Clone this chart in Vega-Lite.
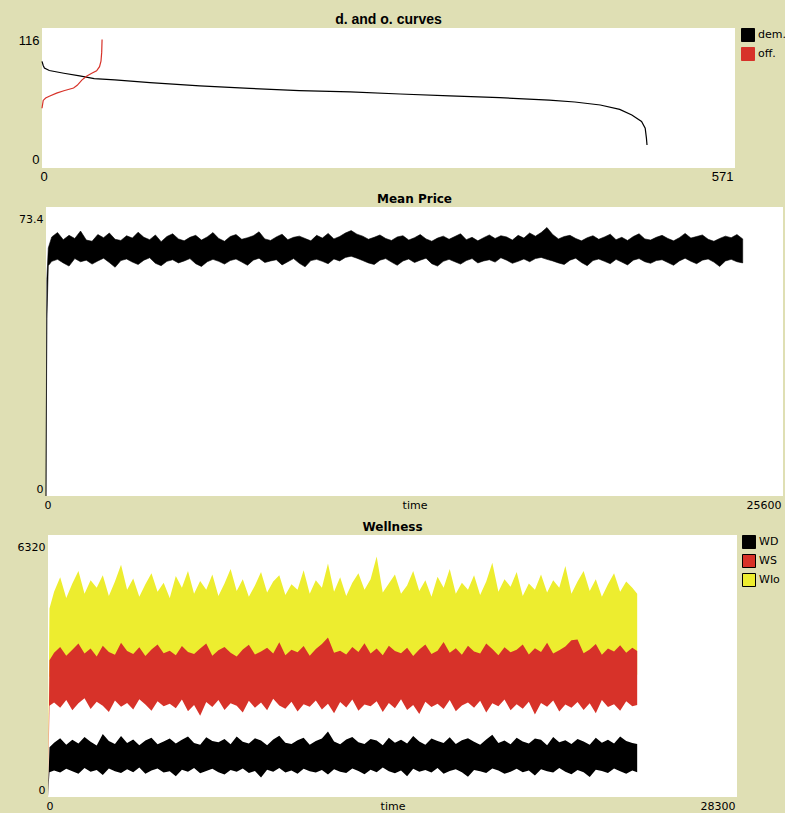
{
  "$schema": "https://vega.github.io/schema/vega-lite/v6.json",
  "background": "#dfdfb4",
  "padding": {"left": 0, "top": 13, "right": 0, "bottom": 0},
  "spacing": 9,
  "bounds": "full",
  "config": {
    "view": {"fill": null, "stroke": null},
    "axis": {"grid": false, "domain": false, "ticks": false, "labelColor": "black", "titleColor": "black"},
    "title": {"color": "black", "anchor": "middle"}
  },
  "resolve": {"scale": {"color": "independent"}, "legend": {"color": "independent"}},
  "datasets": {
    "panes": [{"pane": "plot area"}],
    "curves": [
      {"s": "dem.", "x": 0, "y": 88.3}, {"s": "dem.", "x": 1, "y": 85}, {"s": "dem.", "x": 2, "y": 82.8}, {"s": "dem.", "x": 6, "y": 80.8},
      {"s": "dem.", "x": 18, "y": 78.5}, {"s": "dem.", "x": 31, "y": 76.3}, {"s": "dem.", "x": 43, "y": 74.1}, {"s": "dem.", "x": 60, "y": 73},
      {"s": "dem.", "x": 89, "y": 70.8}, {"s": "dem.", "x": 130, "y": 68}, {"s": "dem.", "x": 171, "y": 66}, {"s": "dem.", "x": 212, "y": 64.1},
      {"s": "dem.", "x": 254, "y": 63}, {"s": "dem.", "x": 295, "y": 61.3}, {"s": "dem.", "x": 336, "y": 59.7}, {"s": "dem.", "x": 377, "y": 58.3},
      {"s": "dem.", "x": 418, "y": 56.3}, {"s": "dem.", "x": 439, "y": 54.7}, {"s": "dem.", "x": 460, "y": 52.2}, {"s": "dem.", "x": 476, "y": 48.6},
      {"s": "dem.", "x": 486, "y": 43.9}, {"s": "dem.", "x": 494, "y": 38.5}, {"s": "dem.", "x": 497, "y": 33}, {"s": "dem.", "x": 498, "y": 25},
      {"s": "dem.", "x": 498.5, "y": 19},
      {"s": "off.", "x": 0, "y": 49.5}, {"s": "off.", "x": 1, "y": 56}, {"s": "off.", "x": 3, "y": 58}, {"s": "off.", "x": 6, "y": 59.5},
      {"s": "off.", "x": 12, "y": 62}, {"s": "off.", "x": 18, "y": 64}, {"s": "off.", "x": 26, "y": 66.3}, {"s": "off.", "x": 29, "y": 68.5},
      {"s": "off.", "x": 33, "y": 73}, {"s": "off.", "x": 37, "y": 76.3}, {"s": "off.", "x": 41, "y": 78.5}, {"s": "off.", "x": 45, "y": 80.5},
      {"s": "off.", "x": 47.4, "y": 84}, {"s": "off.", "x": 48.6, "y": 88.5}, {"s": "off.", "x": 49.2, "y": 96}, {"s": "off.", "x": 49.5, "y": 106.5}
    ],
    "price": [
      {"t": 0, "lo": 0, "hi": 1}, {"t": 30, "lo": 45, "hi": 55}, {"t": 80, "lo": 58.5, "hi": 63},
      {"t": 200, "lo": 59.6, "hi": 65.8}, {"t": 400, "lo": 60.1, "hi": 66.9}, {"t": 600, "lo": 59.2, "hi": 65.1}, {"t": 800, "lo": 58.4, "hi": 66.2},
      {"t": 1000, "lo": 60.3, "hi": 65.4}, {"t": 1200, "lo": 59.5, "hi": 67.3}, {"t": 1400, "lo": 59.9, "hi": 65.0}, {"t": 1600, "lo": 58.9, "hi": 64.7},
      {"t": 1800, "lo": 59.7, "hi": 66.4}, {"t": 2000, "lo": 60.4, "hi": 65.6}, {"t": 2200, "lo": 59.3, "hi": 66.8}, {"t": 2400, "lo": 58.1, "hi": 65.2},
      {"t": 2600, "lo": 59.8, "hi": 64.9}, {"t": 2800, "lo": 60.2, "hi": 66.1}, {"t": 3000, "lo": 59.4, "hi": 65.5}, {"t": 3200, "lo": 58.8, "hi": 67.0},
      {"t": 3400, "lo": 59.9, "hi": 65.7}, {"t": 3600, "lo": 60.5, "hi": 65.1}, {"t": 3800, "lo": 59.1, "hi": 66.3}, {"t": 4000, "lo": 58.5, "hi": 64.6},
      {"t": 4200, "lo": 59.6, "hi": 65.9}, {"t": 4400, "lo": 60.0, "hi": 66.6}, {"t": 4600, "lo": 59.2, "hi": 65.3}, {"t": 4800, "lo": 59.7, "hi": 64.8},
      {"t": 5000, "lo": 60.3, "hi": 65.7}, {"t": 5200, "lo": 59.0, "hi": 66.2}, {"t": 5400, "lo": 58.3, "hi": 65.0}, {"t": 5600, "lo": 59.5, "hi": 65.8},
      {"t": 5800, "lo": 60.1, "hi": 66.9}, {"t": 6000, "lo": 59.6, "hi": 65.4}, {"t": 6200, "lo": 58.9, "hi": 64.7}, {"t": 6400, "lo": 59.8, "hi": 65.9},
      {"t": 6600, "lo": 60.2, "hi": 66.4}, {"t": 6800, "lo": 59.4, "hi": 65.2}, {"t": 7000, "lo": 58.6, "hi": 65.6}, {"t": 7200, "lo": 59.9, "hi": 66.1},
      {"t": 7400, "lo": 60.4, "hi": 67.1}, {"t": 7600, "lo": 59.3, "hi": 65.3}, {"t": 7800, "lo": 59.7, "hi": 64.9}, {"t": 8000, "lo": 60.0, "hi": 65.8},
      {"t": 8200, "lo": 58.7, "hi": 66.5}, {"t": 8400, "lo": 59.5, "hi": 65.1}, {"t": 8600, "lo": 60.3, "hi": 65.7}, {"t": 8800, "lo": 59.1, "hi": 66.0},
      {"t": 9000, "lo": 58.2, "hi": 65.4}, {"t": 9200, "lo": 59.8, "hi": 64.8}, {"t": 9400, "lo": 60.1, "hi": 66.2}, {"t": 9600, "lo": 59.6, "hi": 65.5},
      {"t": 9800, "lo": 59.0, "hi": 66.7}, {"t": 10000, "lo": 60.2, "hi": 65.3}, {"t": 10200, "lo": 59.7, "hi": 65.9}, {"t": 10400, "lo": 60.6, "hi": 66.8},
      {"t": 10600, "lo": 60.9, "hi": 67.4}, {"t": 10800, "lo": 60.4, "hi": 66.5}, {"t": 11000, "lo": 59.8, "hi": 66.0}, {"t": 11200, "lo": 59.2, "hi": 65.2},
      {"t": 11400, "lo": 58.8, "hi": 65.7}, {"t": 11600, "lo": 59.9, "hi": 66.3}, {"t": 11800, "lo": 60.3, "hi": 65.4}, {"t": 12000, "lo": 59.4, "hi": 64.9},
      {"t": 12200, "lo": 58.6, "hi": 65.8}, {"t": 12400, "lo": 59.7, "hi": 66.1}, {"t": 12600, "lo": 60.2, "hi": 65.0}, {"t": 12800, "lo": 59.3, "hi": 65.6},
      {"t": 13000, "lo": 59.9, "hi": 66.4}, {"t": 13200, "lo": 60.4, "hi": 65.3}, {"t": 13400, "lo": 59.0, "hi": 64.7}, {"t": 13600, "lo": 58.4, "hi": 65.5},
      {"t": 13800, "lo": 59.6, "hi": 66.0}, {"t": 14000, "lo": 60.1, "hi": 65.2}, {"t": 14200, "lo": 59.5, "hi": 65.9}, {"t": 14400, "lo": 58.9, "hi": 66.6},
      {"t": 14600, "lo": 59.8, "hi": 65.1}, {"t": 14800, "lo": 60.3, "hi": 65.7}, {"t": 15000, "lo": 59.2, "hi": 64.8}, {"t": 15200, "lo": 59.7, "hi": 65.6},
      {"t": 15400, "lo": 60.0, "hi": 66.3}, {"t": 15600, "lo": 59.4, "hi": 65.4}, {"t": 15800, "lo": 60.5, "hi": 66.1}, {"t": 16000, "lo": 59.9, "hi": 65.8},
      {"t": 16200, "lo": 59.1, "hi": 65.0}, {"t": 16400, "lo": 59.6, "hi": 66.2}, {"t": 16600, "lo": 60.2, "hi": 65.5}, {"t": 16800, "lo": 59.5, "hi": 66.8},
      {"t": 17000, "lo": 60.3, "hi": 66.0}, {"t": 17200, "lo": 60.6, "hi": 66.9}, {"t": 17400, "lo": 60.1, "hi": 68.2}, {"t": 17600, "lo": 59.7, "hi": 66.4},
      {"t": 17800, "lo": 59.2, "hi": 65.3}, {"t": 18000, "lo": 58.8, "hi": 65.9}, {"t": 18200, "lo": 59.9, "hi": 66.2}, {"t": 18400, "lo": 60.4, "hi": 65.4},
      {"t": 18600, "lo": 59.3, "hi": 64.8}, {"t": 18800, "lo": 58.5, "hi": 65.6}, {"t": 19000, "lo": 59.8, "hi": 66.1}, {"t": 19200, "lo": 60.2, "hi": 65.2},
      {"t": 19400, "lo": 59.6, "hi": 65.8}, {"t": 19600, "lo": 59.0, "hi": 66.5}, {"t": 19800, "lo": 60.1, "hi": 65.1}, {"t": 20000, "lo": 59.4, "hi": 65.7},
      {"t": 20200, "lo": 58.7, "hi": 64.9}, {"t": 20400, "lo": 59.9, "hi": 65.9}, {"t": 20600, "lo": 60.3, "hi": 66.6}, {"t": 20800, "lo": 59.5, "hi": 65.3},
      {"t": 21000, "lo": 59.1, "hi": 65.0}, {"t": 21200, "lo": 59.8, "hi": 65.7}, {"t": 21400, "lo": 60.0, "hi": 66.2}, {"t": 21600, "lo": 59.3, "hi": 65.4},
      {"t": 21800, "lo": 58.6, "hi": 64.8}, {"t": 22000, "lo": 59.7, "hi": 65.6}, {"t": 22200, "lo": 60.4, "hi": 66.7}, {"t": 22400, "lo": 59.6, "hi": 65.5},
      {"t": 22600, "lo": 59.0, "hi": 65.9}, {"t": 22800, "lo": 59.9, "hi": 66.3}, {"t": 23000, "lo": 60.2, "hi": 65.2}, {"t": 23200, "lo": 59.4, "hi": 64.7},
      {"t": 23400, "lo": 58.3, "hi": 65.4}, {"t": 23600, "lo": 59.7, "hi": 66.0}, {"t": 23800, "lo": 60.1, "hi": 65.6}, {"t": 24000, "lo": 59.5, "hi": 66.4},
      {"t": 24200, "lo": 59.2, "hi": 65.3}
    ],
    "wellness": [
      {"s": "WD", "t": 0, "lo": 0, "hi": 30}, {"s": "WD", "t": 60, "lo": 600, "hi": 1200}, {"s": "WD", "t": 250, "lo": 640, "hi": 1310}, {"s": "WD", "t": 500, "lo": 590, "hi": 1420},
      {"s": "WD", "t": 750, "lo": 680, "hi": 1260}, {"s": "WD", "t": 1000, "lo": 620, "hi": 1380}, {"s": "WD", "t": 1250, "lo": 560, "hi": 1290}, {"s": "WD", "t": 1500, "lo": 700, "hi": 1450},
      {"s": "WD", "t": 1750, "lo": 610, "hi": 1330}, {"s": "WD", "t": 2000, "lo": 650, "hi": 1240}, {"s": "WD", "t": 2250, "lo": 530, "hi": 1520}, {"s": "WD", "t": 2500, "lo": 690, "hi": 1350},
      {"s": "WD", "t": 2750, "lo": 620, "hi": 1280}, {"s": "WD", "t": 3000, "lo": 580, "hi": 1470}, {"s": "WD", "t": 3250, "lo": 670, "hi": 1300}, {"s": "WD", "t": 3500, "lo": 600, "hi": 1390},
      {"s": "WD", "t": 3750, "lo": 710, "hi": 1250}, {"s": "WD", "t": 4000, "lo": 560, "hi": 1360}, {"s": "WD", "t": 4250, "lo": 640, "hi": 1430}, {"s": "WD", "t": 4500, "lo": 690, "hi": 1270},
      {"s": "WD", "t": 4750, "lo": 590, "hi": 1340}, {"s": "WD", "t": 5000, "lo": 620, "hi": 1410}, {"s": "WD", "t": 5250, "lo": 500, "hi": 1290}, {"s": "WD", "t": 5500, "lo": 660, "hi": 1380},
      {"s": "WD", "t": 5750, "lo": 610, "hi": 1460}, {"s": "WD", "t": 6000, "lo": 700, "hi": 1300}, {"s": "WD", "t": 6250, "lo": 570, "hi": 1260}, {"s": "WD", "t": 6500, "lo": 630, "hi": 1440},
      {"s": "WD", "t": 6750, "lo": 680, "hi": 1350}, {"s": "WD", "t": 7000, "lo": 600, "hi": 1320}, {"s": "WD", "t": 7250, "lo": 540, "hi": 1400}, {"s": "WD", "t": 7500, "lo": 650, "hi": 1270},
      {"s": "WD", "t": 7750, "lo": 610, "hi": 1460}, {"s": "WD", "t": 8000, "lo": 690, "hi": 1330}, {"s": "WD", "t": 8250, "lo": 580, "hi": 1290}, {"s": "WD", "t": 8500, "lo": 630, "hi": 1420},
      {"s": "WD", "t": 8750, "lo": 470, "hi": 1360}, {"s": "WD", "t": 9000, "lo": 660, "hi": 1250}, {"s": "WD", "t": 9250, "lo": 610, "hi": 1390}, {"s": "WD", "t": 9500, "lo": 700, "hi": 1480},
      {"s": "WD", "t": 9750, "lo": 590, "hi": 1310}, {"s": "WD", "t": 10000, "lo": 640, "hi": 1280}, {"s": "WD", "t": 10250, "lo": 560, "hi": 1370}, {"s": "WD", "t": 10500, "lo": 680, "hi": 1430},
      {"s": "WD", "t": 10750, "lo": 620, "hi": 1260}, {"s": "WD", "t": 11000, "lo": 590, "hi": 1350}, {"s": "WD", "t": 11250, "lo": 650, "hi": 1410}, {"s": "WD", "t": 11500, "lo": 540, "hi": 1580},
      {"s": "WD", "t": 11750, "lo": 670, "hi": 1340}, {"s": "WD", "t": 12000, "lo": 610, "hi": 1270}, {"s": "WD", "t": 12250, "lo": 580, "hi": 1390}, {"s": "WD", "t": 12500, "lo": 690, "hi": 1450},
      {"s": "WD", "t": 12750, "lo": 630, "hi": 1320}, {"s": "WD", "t": 13000, "lo": 550, "hi": 1280}, {"s": "WD", "t": 13250, "lo": 660, "hi": 1400}, {"s": "WD", "t": 13500, "lo": 600, "hi": 1360},
      {"s": "WD", "t": 13750, "lo": 710, "hi": 1250}, {"s": "WD", "t": 14000, "lo": 620, "hi": 1430}, {"s": "WD", "t": 14250, "lo": 570, "hi": 1310}, {"s": "WD", "t": 14500, "lo": 640, "hi": 1380},
      {"s": "WD", "t": 14750, "lo": 500, "hi": 1290}, {"s": "WD", "t": 15000, "lo": 680, "hi": 1470}, {"s": "WD", "t": 15250, "lo": 610, "hi": 1340}, {"s": "WD", "t": 15500, "lo": 650, "hi": 1260},
      {"s": "WD", "t": 15750, "lo": 590, "hi": 1410}, {"s": "WD", "t": 16000, "lo": 700, "hi": 1350}, {"s": "WD", "t": 16250, "lo": 560, "hi": 1300}, {"s": "WD", "t": 16500, "lo": 630, "hi": 1440},
      {"s": "WD", "t": 16750, "lo": 670, "hi": 1280}, {"s": "WD", "t": 17000, "lo": 600, "hi": 1370}, {"s": "WD", "t": 17250, "lo": 490, "hi": 1420}, {"s": "WD", "t": 17500, "lo": 650, "hi": 1330},
      {"s": "WD", "t": 17750, "lo": 620, "hi": 1260}, {"s": "WD", "t": 18000, "lo": 580, "hi": 1390}, {"s": "WD", "t": 18250, "lo": 690, "hi": 1500}, {"s": "WD", "t": 18500, "lo": 640, "hi": 1300},
      {"s": "WD", "t": 18750, "lo": 560, "hi": 1360}, {"s": "WD", "t": 19000, "lo": 610, "hi": 1270}, {"s": "WD", "t": 19250, "lo": 680, "hi": 1430}, {"s": "WD", "t": 19500, "lo": 600, "hi": 1340},
      {"s": "WD", "t": 19750, "lo": 640, "hi": 1290}, {"s": "WD", "t": 20000, "lo": 520, "hi": 1410}, {"s": "WD", "t": 20250, "lo": 670, "hi": 1380}, {"s": "WD", "t": 20500, "lo": 620, "hi": 1250},
      {"s": "WD", "t": 20750, "lo": 590, "hi": 1450}, {"s": "WD", "t": 21000, "lo": 700, "hi": 1320}, {"s": "WD", "t": 21250, "lo": 610, "hi": 1370}, {"s": "WD", "t": 21500, "lo": 550, "hi": 1280},
      {"s": "WD", "t": 21750, "lo": 650, "hi": 1400}, {"s": "WD", "t": 22000, "lo": 600, "hi": 1340}, {"s": "WD", "t": 22250, "lo": 480, "hi": 1260}, {"s": "WD", "t": 22500, "lo": 660, "hi": 1430},
      {"s": "WD", "t": 22750, "lo": 630, "hi": 1310}, {"s": "WD", "t": 23000, "lo": 580, "hi": 1380}, {"s": "WD", "t": 23250, "lo": 690, "hi": 1290}, {"s": "WD", "t": 23500, "lo": 620, "hi": 1460},
      {"s": "WD", "t": 23750, "lo": 560, "hi": 1350}, {"s": "WD", "t": 24000, "lo": 640, "hi": 1300}, {"s": "WD", "t": 24200, "lo": 600, "hi": 1280},

      {"s": "WS", "t": 0, "lo": 0, "hi": 40}, {"s": "WS", "t": 60, "lo": 2200, "hi": 3300}, {"s": "WS", "t": 250, "lo": 2280, "hi": 3480}, {"s": "WS", "t": 500, "lo": 2150, "hi": 3620},
      {"s": "WS", "t": 750, "lo": 2340, "hi": 3410}, {"s": "WS", "t": 1000, "lo": 2090, "hi": 3550}, {"s": "WS", "t": 1250, "lo": 2260, "hi": 3700}, {"s": "WS", "t": 1500, "lo": 2380, "hi": 3460},
      {"s": "WS", "t": 1750, "lo": 2120, "hi": 3580}, {"s": "WS", "t": 2000, "lo": 2300, "hi": 3390}, {"s": "WS", "t": 2250, "lo": 2200, "hi": 3650}, {"s": "WS", "t": 2500, "lo": 2050, "hi": 3500},
      {"s": "WS", "t": 2750, "lo": 2330, "hi": 3430}, {"s": "WS", "t": 3000, "lo": 2180, "hi": 3720}, {"s": "WS", "t": 3250, "lo": 2270, "hi": 3520}, {"s": "WS", "t": 3500, "lo": 2110, "hi": 3450},
      {"s": "WS", "t": 3750, "lo": 2360, "hi": 3610}, {"s": "WS", "t": 4000, "lo": 2230, "hi": 3400}, {"s": "WS", "t": 4250, "lo": 2080, "hi": 3560}, {"s": "WS", "t": 4500, "lo": 2310, "hi": 3680},
      {"s": "WS", "t": 4750, "lo": 2190, "hi": 3470}, {"s": "WS", "t": 5000, "lo": 2250, "hi": 3530}, {"s": "WS", "t": 5250, "lo": 2140, "hi": 3420}, {"s": "WS", "t": 5500, "lo": 2350, "hi": 3640},
      {"s": "WS", "t": 5750, "lo": 2070, "hi": 3500}, {"s": "WS", "t": 6000, "lo": 2220, "hi": 3450}, {"s": "WS", "t": 6250, "lo": 1960, "hi": 3580}, {"s": "WS", "t": 6500, "lo": 2290, "hi": 3700},
      {"s": "WS", "t": 6750, "lo": 2170, "hi": 3410}, {"s": "WS", "t": 7000, "lo": 2340, "hi": 3540}, {"s": "WS", "t": 7250, "lo": 2100, "hi": 3620}, {"s": "WS", "t": 7500, "lo": 2260, "hi": 3480},
      {"s": "WS", "t": 7750, "lo": 2200, "hi": 3390}, {"s": "WS", "t": 8000, "lo": 2040, "hi": 3560}, {"s": "WS", "t": 8250, "lo": 2320, "hi": 3670}, {"s": "WS", "t": 8500, "lo": 2150, "hi": 3440},
      {"s": "WS", "t": 8750, "lo": 2280, "hi": 3510}, {"s": "WS", "t": 9000, "lo": 2090, "hi": 3600}, {"s": "WS", "t": 9250, "lo": 2370, "hi": 3460}, {"s": "WS", "t": 9500, "lo": 2210, "hi": 3730},
      {"s": "WS", "t": 9750, "lo": 2130, "hi": 3420}, {"s": "WS", "t": 10000, "lo": 2300, "hi": 3550}, {"s": "WS", "t": 10250, "lo": 2060, "hi": 3490}, {"s": "WS", "t": 10500, "lo": 2240, "hi": 3640},
      {"s": "WS", "t": 10750, "lo": 2180, "hi": 3410}, {"s": "WS", "t": 11000, "lo": 2330, "hi": 3570}, {"s": "WS", "t": 11250, "lo": 2110, "hi": 3690}, {"s": "WS", "t": 11500, "lo": 2250, "hi": 3850},
      {"s": "WS", "t": 11750, "lo": 2020, "hi": 3480}, {"s": "WS", "t": 12000, "lo": 2290, "hi": 3530}, {"s": "WS", "t": 12250, "lo": 2160, "hi": 3440}, {"s": "WS", "t": 12500, "lo": 2350, "hi": 3620},
      {"s": "WS", "t": 12750, "lo": 2080, "hi": 3500}, {"s": "WS", "t": 13000, "lo": 2230, "hi": 3710}, {"s": "WS", "t": 13250, "lo": 2190, "hi": 3460}, {"s": "WS", "t": 13500, "lo": 2310, "hi": 3580},
      {"s": "WS", "t": 13750, "lo": 2050, "hi": 3420}, {"s": "WS", "t": 14000, "lo": 2270, "hi": 3650}, {"s": "WS", "t": 14250, "lo": 2140, "hi": 3520}, {"s": "WS", "t": 14500, "lo": 2360, "hi": 3470},
      {"s": "WS", "t": 14750, "lo": 2100, "hi": 3600}, {"s": "WS", "t": 15000, "lo": 2220, "hi": 3400}, {"s": "WS", "t": 15250, "lo": 2000, "hi": 3560}, {"s": "WS", "t": 15500, "lo": 2300, "hi": 3680},
      {"s": "WS", "t": 15750, "lo": 2170, "hi": 3450}, {"s": "WS", "t": 16000, "lo": 2250, "hi": 3530}, {"s": "WS", "t": 16250, "lo": 2120, "hi": 3740}, {"s": "WS", "t": 16500, "lo": 2340, "hi": 3480},
      {"s": "WS", "t": 16750, "lo": 2070, "hi": 3590}, {"s": "WS", "t": 17000, "lo": 2210, "hi": 3430}, {"s": "WS", "t": 17250, "lo": 2280, "hi": 3650}, {"s": "WS", "t": 17500, "lo": 2150, "hi": 3510},
      {"s": "WS", "t": 17750, "lo": 2320, "hi": 3460}, {"s": "WS", "t": 18000, "lo": 2040, "hi": 3700}, {"s": "WS", "t": 18250, "lo": 2260, "hi": 3570}, {"s": "WS", "t": 18500, "lo": 2190, "hi": 3420},
      {"s": "WS", "t": 18750, "lo": 2350, "hi": 3610}, {"s": "WS", "t": 19000, "lo": 2090, "hi": 3490}, {"s": "WS", "t": 19250, "lo": 2240, "hi": 3550}, {"s": "WS", "t": 19500, "lo": 2130, "hi": 3680},
      {"s": "WS", "t": 19750, "lo": 2300, "hi": 3440}, {"s": "WS", "t": 20000, "lo": 1990, "hi": 3590}, {"s": "WS", "t": 20250, "lo": 2270, "hi": 3500}, {"s": "WS", "t": 20500, "lo": 2180, "hi": 3720},
      {"s": "WS", "t": 20750, "lo": 2330, "hi": 3460}, {"s": "WS", "t": 21000, "lo": 2060, "hi": 3540}, {"s": "WS", "t": 21250, "lo": 2230, "hi": 3630}, {"s": "WS", "t": 21500, "lo": 2150, "hi": 3780},
      {"s": "WS", "t": 21750, "lo": 2290, "hi": 3800}, {"s": "WS", "t": 22000, "lo": 2100, "hi": 3470}, {"s": "WS", "t": 22250, "lo": 2260, "hi": 3560}, {"s": "WS", "t": 22500, "lo": 2020, "hi": 3690},
      {"s": "WS", "t": 22750, "lo": 2340, "hi": 3430}, {"s": "WS", "t": 23000, "lo": 2170, "hi": 3580}, {"s": "WS", "t": 23250, "lo": 2240, "hi": 3510}, {"s": "WS", "t": 23500, "lo": 2080, "hi": 3660},
      {"s": "WS", "t": 23750, "lo": 2310, "hi": 3480}, {"s": "WS", "t": 24000, "lo": 2190, "hi": 3600}, {"s": "WS", "t": 24200, "lo": 2220, "hi": 3520},

      {"s": "WIo", "t": 0, "lo": 0, "hi": 60}, {"s": "WIo", "t": 60, "lo": 2900, "hi": 4550}, {"s": "WIo", "t": 250, "lo": 2950, "hi": 4950}, {"s": "WIo", "t": 500, "lo": 3000, "hi": 5300},
      {"s": "WIo", "t": 750, "lo": 2900, "hi": 4800}, {"s": "WIo", "t": 1000, "lo": 3050, "hi": 5150}, {"s": "WIo", "t": 1250, "lo": 2950, "hi": 5450}, {"s": "WIo", "t": 1500, "lo": 3000, "hi": 4900},
      {"s": "WIo", "t": 1750, "lo": 2900, "hi": 5230}, {"s": "WIo", "t": 2000, "lo": 3050, "hi": 5050}, {"s": "WIo", "t": 2250, "lo": 2950, "hi": 5350}, {"s": "WIo", "t": 2500, "lo": 3000, "hi": 4850},
      {"s": "WIo", "t": 2750, "lo": 2900, "hi": 5200}, {"s": "WIo", "t": 3000, "lo": 3050, "hi": 5600}, {"s": "WIo", "t": 3250, "lo": 2950, "hi": 5000}, {"s": "WIo", "t": 3500, "lo": 3000, "hi": 5270},
      {"s": "WIo", "t": 3750, "lo": 2900, "hi": 4830}, {"s": "WIo", "t": 4000, "lo": 3050, "hi": 5130}, {"s": "WIo", "t": 4250, "lo": 2950, "hi": 5400}, {"s": "WIo", "t": 4500, "lo": 3000, "hi": 4950},
      {"s": "WIo", "t": 4750, "lo": 2900, "hi": 5170}, {"s": "WIo", "t": 5000, "lo": 3050, "hi": 4800}, {"s": "WIo", "t": 5250, "lo": 2950, "hi": 5330}, {"s": "WIo", "t": 5500, "lo": 3000, "hi": 5050},
      {"s": "WIo", "t": 5750, "lo": 2900, "hi": 5450}, {"s": "WIo", "t": 6000, "lo": 3050, "hi": 4900}, {"s": "WIo", "t": 6250, "lo": 2950, "hi": 5210}, {"s": "WIo", "t": 6500, "lo": 3000, "hi": 5000},
      {"s": "WIo", "t": 6750, "lo": 2900, "hi": 5370}, {"s": "WIo", "t": 7000, "lo": 3050, "hi": 4850}, {"s": "WIo", "t": 7250, "lo": 2950, "hi": 5150}, {"s": "WIo", "t": 7500, "lo": 3000, "hi": 5500},
      {"s": "WIo", "t": 7750, "lo": 2900, "hi": 4970}, {"s": "WIo", "t": 8000, "lo": 3050, "hi": 5250}, {"s": "WIo", "t": 8250, "lo": 2950, "hi": 4830}, {"s": "WIo", "t": 8500, "lo": 3000, "hi": 5100},
      {"s": "WIo", "t": 8750, "lo": 2900, "hi": 5430}, {"s": "WIo", "t": 9000, "lo": 3050, "hi": 4930}, {"s": "WIo", "t": 9250, "lo": 2950, "hi": 5200}, {"s": "WIo", "t": 9500, "lo": 3000, "hi": 5350},
      {"s": "WIo", "t": 9750, "lo": 2900, "hi": 4870}, {"s": "WIo", "t": 10000, "lo": 3050, "hi": 5130}, {"s": "WIo", "t": 10250, "lo": 2950, "hi": 5000}, {"s": "WIo", "t": 10500, "lo": 3000, "hi": 5470},
      {"s": "WIo", "t": 10750, "lo": 2900, "hi": 4900}, {"s": "WIo", "t": 11000, "lo": 3050, "hi": 5230}, {"s": "WIo", "t": 11250, "lo": 2950, "hi": 5050}, {"s": "WIo", "t": 11500, "lo": 3000, "hi": 5630},
      {"s": "WIo", "t": 11750, "lo": 2900, "hi": 4950}, {"s": "WIo", "t": 12000, "lo": 3050, "hi": 5300}, {"s": "WIo", "t": 12250, "lo": 2950, "hi": 4850}, {"s": "WIo", "t": 12500, "lo": 3000, "hi": 5170},
      {"s": "WIo", "t": 12750, "lo": 2900, "hi": 5400}, {"s": "WIo", "t": 13000, "lo": 3050, "hi": 5000}, {"s": "WIo", "t": 13250, "lo": 2950, "hi": 5250}, {"s": "WIo", "t": 13500, "lo": 3000, "hi": 5800},
      {"s": "WIo", "t": 13750, "lo": 2900, "hi": 4930}, {"s": "WIo", "t": 14000, "lo": 3050, "hi": 5150}, {"s": "WIo", "t": 14250, "lo": 2950, "hi": 5370}, {"s": "WIo", "t": 14500, "lo": 3000, "hi": 4900},
      {"s": "WIo", "t": 14750, "lo": 2900, "hi": 5100}, {"s": "WIo", "t": 15000, "lo": 3050, "hi": 5450}, {"s": "WIo", "t": 15250, "lo": 2950, "hi": 4970}, {"s": "WIo", "t": 15500, "lo": 3000, "hi": 5230},
      {"s": "WIo", "t": 15750, "lo": 2900, "hi": 4830}, {"s": "WIo", "t": 16000, "lo": 3050, "hi": 5310}, {"s": "WIo", "t": 16250, "lo": 2950, "hi": 5050}, {"s": "WIo", "t": 16500, "lo": 3000, "hi": 5500},
      {"s": "WIo", "t": 16750, "lo": 2900, "hi": 4900}, {"s": "WIo", "t": 17000, "lo": 3050, "hi": 5170}, {"s": "WIo", "t": 17250, "lo": 2950, "hi": 5000}, {"s": "WIo", "t": 17500, "lo": 3000, "hi": 5350},
      {"s": "WIo", "t": 17750, "lo": 2900, "hi": 4870}, {"s": "WIo", "t": 18000, "lo": 3050, "hi": 5200}, {"s": "WIo", "t": 18250, "lo": 2950, "hi": 5650}, {"s": "WIo", "t": 18500, "lo": 3000, "hi": 4950},
      {"s": "WIo", "t": 18750, "lo": 2900, "hi": 5250}, {"s": "WIo", "t": 19000, "lo": 3050, "hi": 5070}, {"s": "WIo", "t": 19250, "lo": 2950, "hi": 5430}, {"s": "WIo", "t": 19500, "lo": 3000, "hi": 4850},
      {"s": "WIo", "t": 19750, "lo": 2900, "hi": 5150}, {"s": "WIo", "t": 20000, "lo": 3050, "hi": 5000}, {"s": "WIo", "t": 20250, "lo": 2950, "hi": 5370}, {"s": "WIo", "t": 20500, "lo": 3000, "hi": 4930},
      {"s": "WIo", "t": 20750, "lo": 2900, "hi": 5230}, {"s": "WIo", "t": 21000, "lo": 3050, "hi": 5050}, {"s": "WIo", "t": 21250, "lo": 2950, "hi": 5570}, {"s": "WIo", "t": 21500, "lo": 3000, "hi": 4900},
      {"s": "WIo", "t": 21750, "lo": 2900, "hi": 5200}, {"s": "WIo", "t": 22000, "lo": 3050, "hi": 5450}, {"s": "WIo", "t": 22250, "lo": 2950, "hi": 4970}, {"s": "WIo", "t": 22500, "lo": 3000, "hi": 5250},
      {"s": "WIo", "t": 22750, "lo": 2900, "hi": 4830}, {"s": "WIo", "t": 23000, "lo": 3050, "hi": 5130}, {"s": "WIo", "t": 23250, "lo": 2950, "hi": 5400}, {"s": "WIo", "t": 23500, "lo": 3000, "hi": 4950},
      {"s": "WIo", "t": 23750, "lo": 2900, "hi": 5200}, {"s": "WIo", "t": 24000, "lo": 3050, "hi": 5050}, {"s": "WIo", "t": 24200, "lo": 2950, "hi": 4900}
    ]
  },
  "vconcat": [
    {
      "width": 693,
      "height": 140,
      "view": {"fill": "white"},
      "title": {"text": "d. and o. curves", "font": "Liberation Sans", "fontSize": 14, "fontWeight": "bold", "offset": 1},
      "data": {"name": "curves"},
      "mark": {"type": "line", "strokeWidth": 1.2},
      "encoding": {
        "x": {"field": "x", "type": "quantitative", "scale": {"domain": [0, 571], "nice": false, "zero": false},
              "axis": {"values": [0, 571], "format": "d", "title": null, "labelFlush": true, "labelOffset": -2, "labelPadding": 2, "labelFont": "Liberation Sans", "labelFontSize": 13, "minExtent": 16, "maxExtent": 16}},
        "y": {"field": "y", "type": "quantitative", "scale": {"domain": [0, 116], "nice": false},
              "axis": {"values": [0, 116], "format": "d", "title": null, "labelFlush": true, "labelPadding": 3, "labelFont": "Liberation Sans", "labelFontSize": 13, "minExtent": 42, "maxExtent": 42,
                       "labelOffset": {"condition": {"test": "datum.value == 0", "value": -2}, "value": 6}}},
        "color": {"field": "s", "type": "nominal", "scale": {"domain": ["dem.", "off."], "range": ["black", "#d73229"]},
                  "legend": {"title": null, "orient": "right", "offset": 6, "padding": 0, "symbolType": "square", "symbolSize": 169, "rowPadding": 1, "labelOffset": 3,
                             "labelFont": "DejaVu Sans", "labelFontSize": 11, "labelColor": "black",
                             "encode": {"symbols": {"update": {"fill": {"signal": "datum.value === 'dem.' ? 'black' : '#d73229'"}, "fillOpacity": {"value": 1}, "stroke": {"value": "black"}, "strokeWidth": {"value": 1}}}}}}
      }
    },
    {
      "width": 741,
      "height": 289,
      "title": {"text": "Mean Price", "font": "DejaVu Sans", "fontSize": 12, "fontWeight": "bold", "offset": 1, "dx": 2},
      "layer": [
        {"data": {"name": "panes"}, "mark": {"type": "rect", "fill": "white", "opacity": 1},
         "encoding": {
           "x": {"datum": 0, "type": "quantitative", "scale": {"domain": [0, 25600], "nice": false, "zero": false, "range": [4, 741]},
                 "axis": {"values": [0, 25600], "format": "d", "title": "time", "titleFont": "DejaVu Sans", "titleFontSize": 11, "titleFontWeight": "normal", "titleY": 3, "titleBaseline": "top",
                          "labelFlush": true, "labelOffset": -2, "labelPadding": 3, "labelFont": "DejaVu Sans", "labelFontSize": 11, "minExtent": 16, "maxExtent": 16}},
           "x2": {"datum": 25600},
           "y": {"datum": 0, "type": "quantitative", "scale": {"domain": [0, 73.4], "nice": false},
                 "axis": {"values": [0, 73.4], "format": ".1~f", "title": null, "labelFlush": true, "labelPadding": -1, "labelFont": "DejaVu Sans", "labelFontSize": 11, "minExtent": 42, "maxExtent": 42,
                          "labelOffset": {"condition": {"test": "datum.value == 0", "value": -2}, "value": 6}}},
           "y2": {"datum": 73.4}
         }},
        {"data": {"name": "price"}, "mark": {"type": "area", "color": "black", "stroke": "black", "strokeWidth": 0.6},
         "encoding": {
           "x": {"field": "t", "type": "quantitative"},
           "y": {"field": "lo", "type": "quantitative"},
           "y2": {"field": "hi"}
         }}
      ]
    },
    {
      "width": 695,
      "height": 262,
      "title": {"text": "Wellness", "font": "DejaVu Sans", "fontSize": 12, "fontWeight": "bold", "offset": 1, "dx": 3},
      "layer": [
        {"data": {"name": "panes"}, "mark": {"type": "rect", "fill": "white", "opacity": 1},
         "encoding": {
           "x": {"datum": 0, "type": "quantitative", "scale": {"domain": [0, 28300], "nice": false, "zero": false, "range": [6, 695]},
                 "axis": {"values": [0, 28300], "format": "d", "title": "time", "titleFont": "DejaVu Sans", "titleFontSize": 11, "titleFontWeight": "normal", "titleY": 3, "titleBaseline": "top",
                          "labelFlush": true, "labelOffset": -2, "labelPadding": 3, "labelFont": "DejaVu Sans", "labelFontSize": 11, "minExtent": 16, "maxExtent": 16}},
           "x2": {"datum": 28300},
           "y": {"datum": 0, "type": "quantitative", "scale": {"domain": [0, 6320], "nice": false},
                 "axis": {"values": [0, 6320], "format": "d", "title": null, "labelFlush": true, "labelPadding": -3, "labelFont": "DejaVu Sans", "labelFontSize": 11, "minExtent": 42, "maxExtent": 42,
                          "labelOffset": {"condition": {"test": "datum.value == 0", "value": -2}, "value": 6}}},
           "y2": {"datum": 6320}
         }},
        {"data": {"name": "wellness"}, "transform": [{"filter": "datum.s == 'WIo'"}], "mark": {"type": "area"},
         "encoding": {"x": {"field": "t", "type": "quantitative"}, "y": {"field": "lo", "type": "quantitative"}, "y2": {"field": "hi"},
           "color": {"field": "s", "type": "nominal", "scale": {"domain": ["WD", "WS", "WIo"], "range": ["black", "#d73229", "#eded2f"]},
                     "legend": {"title": null, "orient": "right", "offset": 5, "padding": 0, "symbolType": "square", "symbolSize": 169, "rowPadding": 1, "labelOffset": 3,
                                "labelFont": "DejaVu Sans", "labelFontSize": 11, "labelColor": "black",
                                "encode": {"symbols": {"update": {"fillOpacity": {"value": 1}, "stroke": {"value": "black"}, "strokeWidth": {"value": 1}}}}}}}},
        {"data": {"name": "wellness"}, "transform": [{"filter": "datum.s == 'WS'"}], "mark": {"type": "area"},
         "encoding": {"x": {"field": "t", "type": "quantitative"}, "y": {"field": "lo", "type": "quantitative"}, "y2": {"field": "hi"},
           "color": {"field": "s", "type": "nominal"}}},
        {"data": {"name": "wellness"}, "transform": [{"filter": "datum.s == 'WD'"}], "mark": {"type": "area"},
         "encoding": {"x": {"field": "t", "type": "quantitative"}, "y": {"field": "lo", "type": "quantitative"}, "y2": {"field": "hi"},
           "color": {"field": "s", "type": "nominal"}}}
      ]
    }
  ]
}
